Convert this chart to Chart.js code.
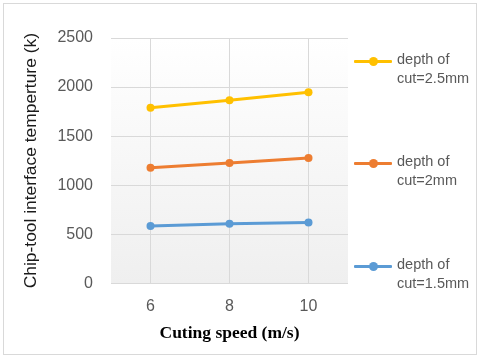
<!DOCTYPE html>
<html>
<head>
<meta charset="utf-8">
<script src="https://cdn.jsdelivr.net/npm/chart.js@4/dist/chart.umd.min.js"></script>
<style>
  html, body { margin: 0; padding: 0; background: #ffffff; }
  body { width: 480px; height: 359px; position: relative; overflow: hidden; }
  #frame { position: absolute; left: 3px; top: 3px; width: 472px; height: 350px; border: 1px solid #d9d9d9; }
  #wrap { position: absolute; left: 0; top: 0; width: 480px; height: 359px; }
  .leg { position: absolute; left: 354px; width: 126px; height: 40px; font-family: "Liberation Sans", Arial, sans-serif; font-size: 14.5px; color: #595959; }
  .leg .mk { position: absolute; left: 0; top: 0; width: 38px; height: 3px; border-radius: 1px; }
  .leg .dot { position: absolute; left: 15px; top: -3px; width: 9px; height: 9px; border-radius: 50%; }
  .leg .tx { position: absolute; left: 43px; top: -10px; line-height: 19px; white-space: nowrap; }
</style>
</head>
<body>
<div id="frame"></div>
<div id="wrap"><canvas id="c" width="480" height="359"></canvas></div>
<div id="legend"></div>
<script>
const categories = ["6", "8", "10"];
const seriesLabels = [["depth of", "cut=1.5mm"], ["depth of", "cut=2mm"], ["depth of", "cut=2.5mm"]];
const depth15 = [585, 607, 620];
const depth2 = [1178, 1225, 1277];
const depth25 = [1790, 1865, 1948];
const seriesColors = ["#5B9BD5", "#ED7D31", "#FFC000"];
const yTicks = [0, 500, 1000, 1500, 2000, 2500];
const xTitle = "Cuting speed (m/s)";
const yTitle = "Chip-tool interface temperture (k)";

const seriesData = [depth15, depth2, depth25];

const bgPlugin = {
  id: 'plotBg',
  beforeDraw(chart) {
    const {ctx, chartArea: a} = chart;
    const g = ctx.createLinearGradient(0, a.top, 0, a.bottom);
    g.addColorStop(0, '#ffffff');
    g.addColorStop(1, '#efefef');
    ctx.save();
    ctx.fillStyle = g;
    ctx.fillRect(a.left, a.top, a.right - a.left, a.bottom - a.top);
    ctx.restore();
  }
};

const chart = new Chart(document.getElementById('c'), {
  type: 'line',
  data: {
    labels: categories,
    datasets: seriesData.map((d, i) => ({
      label: seriesLabels[i].join(' '),
      data: d,
      borderColor: seriesColors[i],
      backgroundColor: seriesColors[i],
      borderWidth: 3,
      pointRadius: 4,
      pointHoverRadius: 4,
      pointBorderWidth: 0,
      tension: 0
    }))
  },
  plugins: [bgPlugin],
  options: {
    responsive: false,
    animation: false,
    devicePixelRatio: 1,
    layout: { padding: { left: 0, right: 132, top: 38, bottom: 0 } },
    plugins: { legend: { display: false }, tooltip: { enabled: false } },
    scales: {
      x: {
        type: 'category',
        offset: true,
        grid: { offset: false, color: '#d9d9d9', lineWidth: 1, drawTicks: false },
        border: { display: false },
        ticks: { color: '#595959', font: { family: 'Liberation Sans', size: 16 }, padding: 14 },
        title: { display: true, text: xTitle, color: '#000000', font: { family: 'Liberation Serif', size: 17.5, weight: 'bold' }, padding: { top: 0, bottom: 15 } },
        afterFit(axis) { axis.height = 359 - 283.3; }
      },
      y: {
        min: 0, max: 2500,
        afterBuildTicks(axis) { axis.ticks = yTicks.map(v => ({ value: v })); },
        grid: { color: '#d9d9d9', lineWidth: 1, drawTicks: false },
        border: { display: false },
        ticks: { color: '#595959', font: { family: 'Liberation Sans', size: 16 }, padding: 18, callback: v => String(v) },
        title: { display: true, text: yTitle, color: '#1a1a1a', font: { family: 'Liberation Sans', size: 17.4 }, padding: { top: 21, bottom: 0 } },
        afterFit(axis) { axis.width = 111; }
      }
    }
  }
});

// HTML legend (top-to-bottom: reverse order)
const legend = document.getElementById('legend');
const legendTops = [266, 163, 61];
seriesLabels.forEach((lab, i) => {
  const el = document.createElement('div');
  el.className = 'leg';
  el.style.top = (legendTops[i] - 1) + 'px';
  el.innerHTML = '<div class="mk"></div><div class="dot"></div><div class="tx"></div>';
  el.querySelector('.mk').style.background = seriesColors[i];
  el.querySelector('.dot').style.background = seriesColors[i];
  el.querySelector('.tx').innerHTML = lab.map(s => s.replace(/</g, '&lt;')).join('<br>');
  legend.appendChild(el);
});
</script>
</body>
</html>
